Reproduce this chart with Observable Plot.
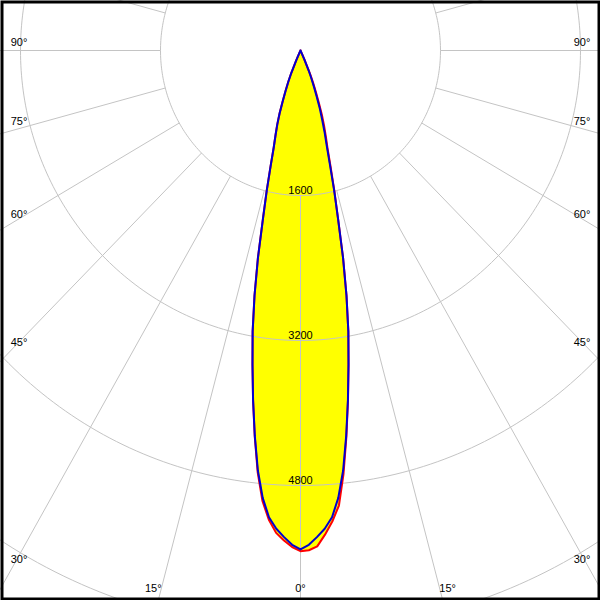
<!DOCTYPE html>
<html><head><meta charset="utf-8">
<script src="https://cdn.jsdelivr.net/npm/d3@7"></script>
<script src="https://cdn.jsdelivr.net/npm/@observablehq/plot@0.6"></script>
<style>html,body{margin:0;padding:0;background:#fff}#chart svg{display:block}</style>
</head><body><div id="chart"></div>
<script>
// gamma angles (deg from nadir)
const gammaDeg = [0, 1, 2, 3, 4, 5, 6, 7, 8, 9, 10, 11, 12, 13, 14, 15, 16, 17, 18, 19, 20, 21, 22, 23, 24, 25, 26, 30, 45, 60, 90, 120, 150, 180];
// luminous intensity (cd) per C-plane
const intensityC0   = [5525, 5515, 5475, 5350, 5210, 5040, 4700, 4300, 3900, 3510, 3150, 2755, 2340, 1910, 1600, 1330, 1120, 990, 870, 750, 610, 490, 385, 285, 130, 35, 0, 0, 0, 0, 0, 0, 0, 0];
const intensityC180 = [5525, 5480, 5410, 5330, 5190, 4990, 4680, 4290, 3895, 3508, 3150, 2754, 2340, 1910, 1597, 1320, 1105, 975, 860, 735, 590, 475, 372, 270, 120, 30, 0, 0, 0, 0, 0, 0, 0, 0];
const intensityC90  = [5506, 5455, 5373, 5285, 5163, 4955, 4660, 4285, 3895, 3508, 3150, 2754, 2340, 1910, 1590, 1290, 1080, 940, 800, 680, 540, 430, 330, 240, 110, 25, 0, 0, 0, 0, 0, 0, 0, 0];
const intensityC270 = [5506, 5455, 5373, 5285, 5163, 4955, 4660, 4285, 3895, 3508, 3150, 2754, 2340, 1910, 1597, 1320, 1105, 975, 860, 735, 590, 475, 372, 270, 120, 30, 0, 0, 0, 0, 0, 0, 0, 0];
// grid
const ringValues = [1600, 3200, 4800, 6400];
const ringLabels = ["1600", "3200", "4800", "6400"];
const spokeAngles = d3.range(0, 360, 15);
const angleLabelValues = [0, 15, 30, 45, 60, 75, 90];

// layout
const W = 600, H = 600;
const cx = 300, cy = 50;                 // pole position in px
const kx = 140 / 1600, ky = 145 / 1600;  // px per cd
const xDomain = [-cx / kx, (W - cx) / kx];
const yDomain = [-(H - cy) / ky, cy / ky];
const rad = Math.PI / 180;

function polygon(rightVals, leftVals) {
  const pts = [];
  for (let i = gammaDeg.length - 1; i >= 0; i--) {
    const a = gammaDeg[i] * rad;
    pts.push({x: -leftVals[i] * Math.sin(a), y: -leftVals[i] * Math.cos(a)});
  }
  for (let i = 0; i < gammaDeg.length; i++) {
    const a = gammaDeg[i] * rad;
    pts.push({x: rightVals[i] * Math.sin(a), y: -rightVals[i] * Math.cos(a)});
  }
  return pts;
}
const redPoly = polygon(intensityC0, intensityC180);
const bluePoly = polygon(intensityC90, intensityC270);

const ringPts = ringValues.flatMap(r => d3.range(0, 361, 1).map(t => ({r, x: r * Math.sin(t * rad), y: -r * Math.cos(t * rad)})));
const spokes = spokeAngles.map(a => ({a, r1: 1600, r2: 14000}));
const ringTextData = ringValues.map((v, i) => ({v, label: ringLabels[i]})).filter(d => cy + d.v * ky < H - 12);

// angle labels: where each spoke meets the label box, then nudged off the line
const angleLabels = [];
for (const s of [-1, 1]) {
  for (const g of angleLabelValues) {
    if (g === 0 && s === 1) continue;
    const a = g * rad;
    const sideX = s < 0 ? cx - 18.5 : 581.5 - cx;
    const bottomY = 588 - cy;
    const t1 = Math.sin(a) > 1e-9 ? sideX / (Math.sin(a) * kx) : Infinity;
    const t2 = Math.cos(a) > 1e-9 ? bottomY / (Math.cos(a) * ky) : Infinity;
    let x, y;
    if (t1 <= t2) {
      x = s * t1 * Math.sin(a); y = -t1 * Math.cos(a);
      const dyPx = -8 * Math.cos(2 * (90 - g) * rad);
      y -= dyPx / ky;
    } else {
      x = s * t2 * Math.sin(a); y = -t2 * Math.cos(a);
      const dxPx = g > 0 ? s * 8 : 0;
      x += dxPx / kx;
    }
    angleLabels.push({x, y, text: g + "°"});
  }
}

const grid = "#c4c4c4";
const chart = Plot.plot({
  width: W, height: H,
  margin: 0,
  style: {fontFamily: "'Liberation Sans', Arial, sans-serif", background: "#fff", color: "#000"},
  x: {domain: xDomain, axis: null},
  y: {domain: yDomain, axis: null},
  marks: [
    Plot.line(redPoly, {x: "x", y: "y", fill: "#ffff00", stroke: "none", curve: "linear"}),
    Plot.line(bluePoly, {x: "x", y: "y", fill: "#ffff00", stroke: "none", curve: "linear"}),
    Plot.line(ringPts, {x: "x", y: "y", z: "r", stroke: grid, strokeWidth: 1, curve: "linear"}),
    Plot.link(spokes, {
      x1: d => d.r1 * Math.sin(d.a * rad), y1: d => -d.r1 * Math.cos(d.a * rad),
      x2: d => d.r2 * Math.sin(d.a * rad), y2: d => -d.r2 * Math.cos(d.a * rad),
      stroke: grid, strokeWidth: 1
    }),
    Plot.text(ringTextData, {x: 0, y: d => -d.v, text: "label", dy: -5, fontSize: 11, fill: "#000"}),
    Plot.line(redPoly, {x: "x", y: "y", stroke: "#ff0000", strokeWidth: 2, curve: "linear"}),
    Plot.line(bluePoly, {x: "x", y: "y", stroke: "#0000d0", strokeWidth: 2, curve: "linear"}),
    Plot.text(angleLabels, {x: "x", y: "y", text: "text", fontSize: 11, fill: "#000"}),
    Plot.frame({stroke: "#000", strokeWidth: 3, inset: 1.5})
  ]
});
document.getElementById("chart").append(chart);
</script>
</body></html>
